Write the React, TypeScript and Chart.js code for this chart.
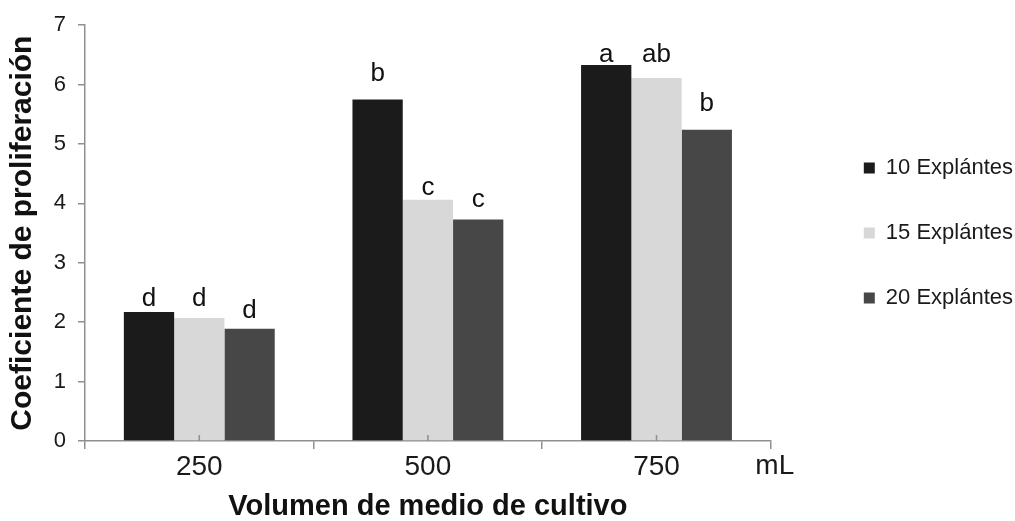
import React, { useEffect, useRef } from 'react';
import { Chart, registerables } from 'chart.js';

Chart.register(...registerables);

const categories = ['250', '500', '750'];
const seriesNames = ['10 Explántes', '15 Explántes', '20 Explántes'];
const explantes10 = [2.17, 5.75, 6.33];
const explantes15 = [2.07, 4.06, 6.11];
const explantes20 = [1.89, 3.73, 5.24];
const letters10 = ['d', 'b', 'a'];
const letters15 = ['d', 'c', 'ab'];
const letters20 = ['d', 'c', 'b'];
const letterLevel10 = [2.27, 6.06, 6.38];
const letterLevel15 = [2.27, 4.14, 6.38];
const letterLevel20 = [2.07, 3.94, 5.56];
const yTicks = [0, 1, 2, 3, 4, 5, 6, 7];
const unitLabel = 'mL';
const xTitle = 'Volumen de medio de cultivo';
const yTitle = 'Coeficiente de proliferación';

const FONT = '"Liberation Sans", Arial, sans-serif';
const AXIS = '#8f8f8f';
const COLORS = ['#1b1b1b', '#d8d8d8', '#474747'];

const letterSets = [letters10, letters15, letters20];
const levelSets = [letterLevel10, letterLevel15, letterLevel20];

const annotate = {
  id: 'annotate',
  afterDatasetsDraw(chart: any) {
    const ctx = chart.ctx;
    const ys = chart.scales.y;
    const xs = chart.scales.x;
    ctx.save();
    ctx.fillStyle = '#111111';
    ctx.font = `26px ${FONT}`;
    ctx.textAlign = 'center';
    ctx.textBaseline = 'alphabetic';
    letterSets.forEach((letters, i) => {
      const meta = chart.getDatasetMeta(i);
      letters.forEach((t, j) => {
        const el = meta.data[j];
        ctx.fillText(t, el.x, ys.getPixelForValue(levelSets[i][j]));
      });
    });
    ctx.strokeStyle = AXIS;
    ctx.lineWidth = 1.5;
    categories.forEach((_, j) => {
      const px = xs.getPixelForValue(j);
      ctx.beginPath();
      ctx.moveTo(px, xs.top);
      ctx.lineTo(px, xs.top - 6);
      ctx.stroke();
    });
    ctx.fillStyle = '#1a1a1a';
    ctx.font = `28px ${FONT}`;
    ctx.textBaseline = 'middle';
    ctx.fillText(unitLabel, xs.right + 4, xs.top + 25);
    ctx.restore();
  },
};

export default function App() {
  const ref = useRef<HTMLCanvasElement | null>(null);

  useEffect(() => {
    if (!ref.current) return;
    const series = [explantes10, explantes15, explantes20];
    const chart = new Chart(ref.current, {
      type: 'bar',
      data: {
        labels: categories,
        datasets: series.map((d, i) => ({
          label: seriesNames[i],
          data: d,
          backgroundColor: COLORS[i],
          borderColor: COLORS[i],
          borderWidth: 0,
          barPercentage: 1,
          categoryPercentage: 0.66,
          yAxisID: 'y',
          xAxisID: 'x',
        })),
      },
      options: {
        responsive: true,
        maintainAspectRatio: false,
        animation: false,
        layout: { padding: { top: 22, right: -8, bottom: 0, left: 0 } },
        plugins: {
          legend: {
            position: 'right',
            fullSize: false,
            align: 'center',
            labels: {
              boxWidth: 11,
              boxHeight: 11,
              padding: 43,
              color: '#1a1a1a',
              font: { family: FONT, size: 22 },
            },
          },
          tooltip: { enabled: false },
        },
        scales: {
          x: {
            type: 'category',
            position: 'bottom',
            grid: {
              offset: true,
              drawOnChartArea: false,
              drawTicks: true,
              tickLength: 8,
              color: AXIS,
              lineWidth: 1.5,
            },
            border: { display: true, color: AXIS, width: 1.5 },
            ticks: { color: '#1a1a1a', padding: 1, font: { family: FONT, size: 28 } },
            title: {
              display: true,
              text: xTitle,
              color: '#111111',
              font: { family: FONT, size: 29, weight: 'bold' },
              padding: { top: 0, bottom: -3 },
            },
            afterFit: (s: any) => {
              s.height = 80;
            },
          },
          y: {
            type: 'linear',
            position: 'left',
            min: 0,
            max: 7,
            grid: {
              drawOnChartArea: false,
              drawTicks: true,
              tickLength: 7,
              color: AXIS,
              lineWidth: 1.5,
            },
            border: { display: true, color: AXIS, width: 1.5 },
            ticks: {
              color: '#1a1a1a',
              padding: 12,
              font: { family: FONT, size: 22 },
            },
            afterBuildTicks: (s: any) => {
              s.ticks = yTicks.map((v) => ({ value: v }));
            },
            title: {
              display: true,
              text: yTitle,
              color: '#111111',
              font: { family: FONT, size: 30, weight: 'bold' },
              padding: { top: 5, bottom: 0 },
            },
            afterFit: (s: any) => {
              s.width = 85;
            },
          },
          gap: {
            type: 'linear',
            position: 'right',
            display: false,
            afterFit: (s: any) => {
              s.width = 50;
            },
          },
        },
      } as any,
      plugins: [annotate],
    });
    return () => chart.destroy();
  }, []);

  return (
    <div style={{ position: 'fixed', left: 0, top: 0, width: 1015, height: 521, background: '#ffffff' }}>
      <canvas ref={ref} />
    </div>
  );
}
